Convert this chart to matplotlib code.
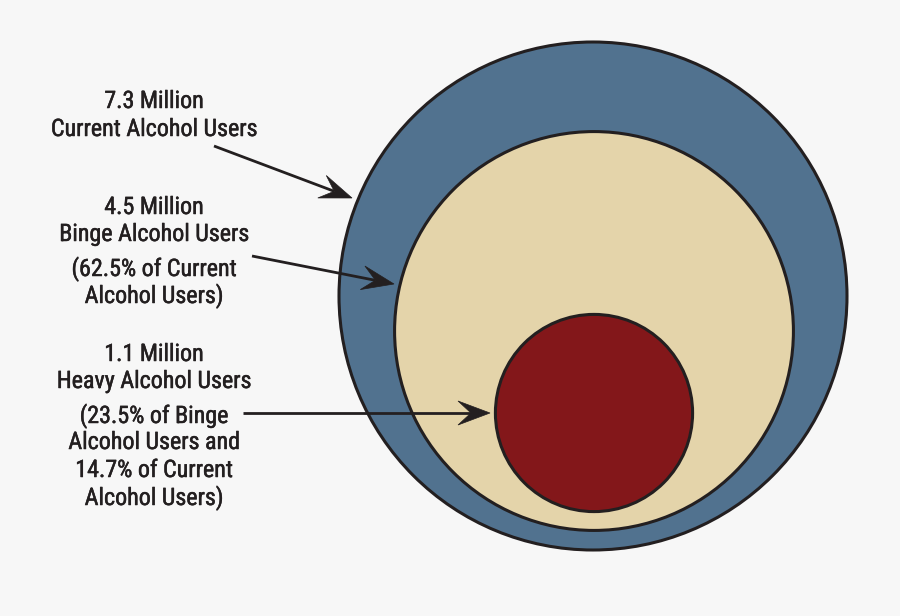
import numpy as np
import matplotlib
matplotlib.use("Agg")
import matplotlib.pyplot as plt
import matplotlib.patheffects as pe
from matplotlib.patches import Circle, Polygon
from matplotlib import font_manager

# ---- data ----
groups = ["Current Alcohol Users", "Binge Alcohol Users", "Heavy Alcohol Users"]
millions = [7.3, 4.5, 1.1]
value_labels = ["7.3 Million", "4.5 Million", "1.1 Million"]
notes = [[], ["(62.5% of Current", "Alcohol Users)"],
         ["(23.5% of Binge", "Alcohol Users and", "14.7% of Current", "Alcohol Users)"]]
colors = ["#51728f", "#e4d4aa", "#83171a"]

# ---- layout (pixel coordinates) ----
W, H = 900, 616
outer_r = 254
centers = [(593, 296), (594, 331), (594, 413)]
label_x = 154
title_base = [(108, 136), (214, 241), (361, 388)]
note_base = [[], [276, 303], [423, 449, 477, 505]]
arrows = [((214, 146), (352, 198)), ((252, 256), (394, 284)), ((243, 413), (490, 413))]

avail = {f.name for f in font_manager.fontManager.ttflist}
fam = "Roboto Condensed" if "Roboto Condensed" in avail else "Roboto"
plt.rcParams['font.family'] = [fam, "DejaVu Sans"]

fig = plt.figure(figsize=(W / 100, H / 100), dpi=100, facecolor="#f7f7f7")
ax = fig.add_axes([0, 0, 1, 1])
ax.set_xlim(0, W)
ax.set_ylim(H, 0)
ax.set_aspect("equal")
ax.axis("off")

edge = "#231f20"
for v, c, col in zip(millions, centers, colors):
    r = outer_r * np.sqrt(v / millions[0])
    ax.add_patch(Circle(c, r, facecolor=col, edgecolor=edge, lw=2.2, zorder=2))

fs = 17.3
txt = "#231f20"
thick = [pe.withStroke(linewidth=0.35, foreground=txt)]
for i in range(3):
    ax.text(label_x, title_base[i][0], value_labels[i], ha="center", va="baseline",
            fontsize=fs, color=txt, zorder=5, path_effects=thick)
    ax.text(label_x, title_base[i][1], groups[i], ha="center", va="baseline",
            fontsize=fs, color=txt, zorder=5, path_effects=thick)
    for line, yb in zip(notes[i], note_base[i]):
        ax.text(label_x, yb, line, ha="center", va="baseline",
                fontsize=fs, color=txt, zorder=5, path_effects=thick)

def draw_arrow(p0, p1, hl=32, hw=12, notch=19):
    p0 = np.array(p0, float); p1 = np.array(p1, float)
    d = p1 - p0
    L = np.hypot(*d)
    u = d / L
    n = np.array([-u[1], u[0]])
    back = p1 - u * hl
    nt = p1 - u * notch
    ax.plot([p0[0], nt[0]], [p0[1], nt[1]], color=edge, lw=2.0,
            solid_capstyle="butt", zorder=6)
    head = np.array([p1, back + n * hw, nt, back - n * hw])
    ax.add_patch(Polygon(head, closed=True, facecolor=edge, edgecolor=edge,
                         lw=0.5, zorder=7))

for p0, p1 in arrows:
    draw_arrow(p0, p1)

fig.savefig("out.png", dpi=100, facecolor=fig.get_facecolor())
